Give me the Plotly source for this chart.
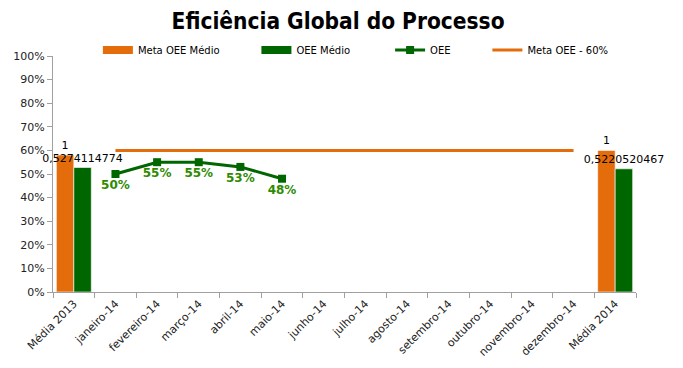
import plotly.graph_objects as go

categories = ["Média 2013", "janeiro-14", "fevereiro-14", "março-14", "abril-14", "maio-14",
              "junho-14", "julho-14", "agosto-14", "setembro-14", "outubro-14",
              "novembro-14", "dezembro-14", "Média 2014"]

meta_medio = [0.58, None, None, None, None, None, None, None, None, None, None, None, None, 0.60]
meta_medio_labels = ["1", "", "", "", "", "", "", "", "", "", "", "", "", "1"]
oee_medio = [0.5274114774, None, None, None, None, None, None, None, None, None, None, None, None, 0.5220520467]
oee_medio_labels = ["0,5274114774", "", "", "", "", "", "", "", "", "", "", "", "", "0,5220520467"]

oee_months = ["janeiro-14", "fevereiro-14", "março-14", "abril-14", "maio-14"]
oee_values = [0.50, 0.55, 0.55, 0.53, 0.48]
oee_labels = ["50%", "55%", "55%", "53%", "48%"]

meta_months = categories[1:13]
meta_values = [0.60] * 12

ORANGE = "#E46C0A"
GREEN = "#006600"
LABEL_GREEN = "#2E8B00"
FONT = "DejaVu Sans, sans-serif"
COND = "DejaVu Sans Condensed, DejaVu Sans, sans-serif"


def pad(n):
    return "\u00a0" * n


fig = go.Figure()
fig.add_trace(go.Bar(
    x=categories, y=meta_medio, name="Meta OEE Médio", showlegend=False,
    marker=dict(color=ORANGE, line=dict(color="rgba(255,255,255,0.6)", width=1)),
    text=meta_medio_labels, textposition="outside", constraintext="none",
    textfont=dict(size=11, color="#000000", family=FONT), cliponaxis=False,
))
fig.add_trace(go.Bar(
    x=categories, y=oee_medio, name="OEE Médio", showlegend=False,
    marker=dict(color=GREEN, line=dict(color="rgba(255,255,255,0.6)", width=1)),
    text=oee_medio_labels, textposition="outside", constraintext="none",
    textfont=dict(size=11, color="#000000", family=FONT), cliponaxis=False,
))
# legend entries for the bars (wide rectangle swatches)
fig.add_trace(go.Scatter(x=[None], y=[None], mode="lines", name="Meta OEE Médio" + pad(10),
                         line=dict(color=ORANGE, width=8)))
fig.add_trace(go.Scatter(x=[None], y=[None], mode="lines", name="OEE Médio" + pad(11),
                         line=dict(color=GREEN, width=8)))
fig.add_trace(go.Scatter(
    x=oee_months, y=oee_values, name="OEE" + pad(10), mode="lines+markers+text",
    line=dict(color=GREEN, width=3), marker=dict(symbol="square", size=8, color=GREEN),
    text=oee_labels, textposition="bottom center",
    textfont=dict(size=12, color=LABEL_GREEN, family=FONT, weight="bold"),
))
fig.add_trace(go.Scatter(
    x=meta_months, y=meta_values, name="Meta OEE - 60%", mode="lines",
    line=dict(color=ORANGE, width=3),
))

fig.update_layout(
    width=675, height=360,
    margin=dict(l=45, r=47, t=48, b=76),
    paper_bgcolor="white", plot_bgcolor="white",
    font=dict(family=FONT, size=11, color="#000000"),
    title=dict(text="<b>Eficiência Global do Processo</b>", x=0.489, xanchor="center",
               y=0.964, yanchor="middle", font=dict(size=22.5, family=COND, color="#000000")),
    barmode="group", bargap=0.16, bargroupgap=0.0,
    showlegend=True,
    legend=dict(orientation="h", x=0.077, xanchor="left", y=1.025, yanchor="middle",
                font=dict(size=10, family=FONT), bgcolor="rgba(0,0,0,0)", traceorder="normal"),
    xaxis=dict(type="category", categoryorder="array", categoryarray=categories,
               tickson="boundaries", ticks="outside", ticklen=5, tickcolor="#A0A0A0",
               showline=True, linecolor="#A0A0A0", linewidth=1, tickangle=-45,
               showgrid=False, automargin=False, tickfont=dict(size=11, color="#222222")),
    yaxis=dict(range=[0, 1], dtick=0.1, tickformat=".0%", ticks="outside", ticklen=5,
               tickcolor="#A0A0A0", showline=True, linecolor="#A0A0A0", linewidth=1,
               showgrid=False, zeroline=False, automargin=False,
               tickfont=dict(size=11, color="#222222")),
)

fig.write_html("out.html")
